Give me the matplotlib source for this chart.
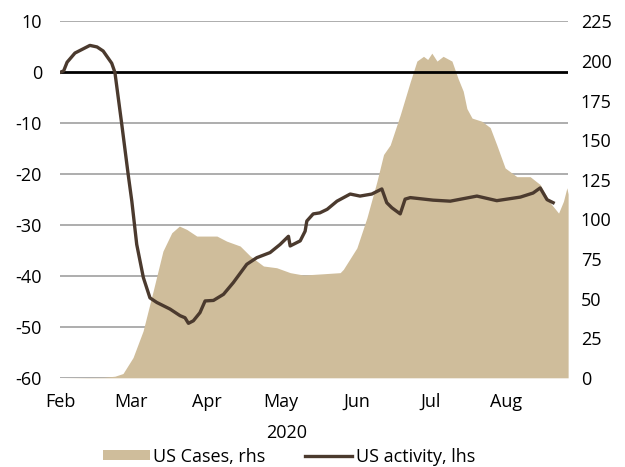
import numpy as np
import matplotlib
matplotlib.use('Agg')
import matplotlib.pyplot as plt
from matplotlib.patches import Patch
from matplotlib.lines import Line2D

plt.rcParams['font.family'] = ['Open Sans', 'DejaVu Sans']
plt.rcParams['axes.unicode_minus'] = False

# days since 2020-02-01
month_days = [0, 29, 60, 90, 121, 151, 182]
month_labels = ['Feb', 'Mar', 'Apr', 'May', 'Jun', 'Jul', 'Aug']

# US activity (lhs)
act_days = [0, 1.5, 2.9, 6.1, 12.2, 15.1, 17.6, 21.1, 22.4, 25.2, 27.8, 29.3,
            31.3, 34.0, 36.7, 39.5, 44.9, 49.0, 51.0, 52.4, 54.4, 57.1, 59.2,
            62.6, 66.7, 70.7, 76.2, 80.3, 85.7, 89.8, 93.2, 93.9, 98.0, 100.0,
            100.7, 103.3, 106.0, 109.0, 113.0, 118.4, 122.4, 127.2, 131.3,
            133.3, 135.4, 138.8, 140.8, 142.9, 152.2, 159.2, 170.1, 178.2,
            187.8, 193.0, 195.9, 198.7, 201.2]
act_vals = [0, 0.3, 2.0, 3.8, 5.3, 5.0, 4.2, 1.8, 0, -10.2, -20, -25.3,
            -33.8, -40.3, -44.3, -45.2, -46.5, -47.8, -48.2, -49.3, -48.8, -47.2, -44.9,
            -44.8, -43.6, -41.3, -37.7, -36.4, -35.4, -33.8, -32.2, -34.1, -33.1, -31.2,
            -29.2, -27.8, -27.6, -26.9, -25.3, -23.9, -24.3, -23.9, -22.9,
            -25.6, -26.6, -27.8, -24.9, -24.6, -25.1, -25.3, -24.3, -25.2,
            -24.5, -23.7, -22.7, -25.0, -25.6]

# US cases (rhs)
case_days = [0, 17.6, 22.4, 25.7, 29.8, 33.9, 38.0, 42.0, 45.6, 48.7, 51.7,
             55.8, 64.0, 68.0, 73.5, 77.6, 83.0, 88.4, 93.9, 99.3, 107.5, 114.3,
             115.6, 121.1, 125.2, 129.3, 132.0, 134.7, 138.8, 142.9, 145.6, 148.3,
             150.0, 151.7, 153.8, 156.3, 159.9, 162.4, 164.5, 166.0, 168.1, 172.1,
             175.5, 178.2, 181.6, 186.4, 191.8, 195.9, 200.0, 203.4, 205.4, 206.8, 207.3]
case_vals = [0, 0.3, 1.0, 2.7, 12.8, 29.6, 54.8, 80.0, 91.6, 95.8, 93.7,
             89.5, 89.5, 86.3, 83.2, 76.9, 70.6, 69.5, 66.4, 64.9, 65.7, 66.4,
             68.5, 82.0, 101.0, 124.0, 141.0, 147.0, 166.0, 187.0, 200.0, 203.0,
             201.0, 205.0, 200.0, 203.0, 200.0, 189.0, 181.0, 170.0, 164.0, 162.0,
             158.0, 147.0, 132.5, 127.0, 127.0, 122.0, 110.5, 104.0, 111.5, 120.0, 116.0]

tan = '#cfbd9b'
brown = '#4b3a2e'
fs = 13

fig = plt.figure(figsize=(6.25, 4.67), dpi=100)
ax = fig.add_axes([0.096, 0.191, 0.813, 0.763])
ax2 = ax.twinx()

# cases area on the right axis, drawn behind the activity line
ax2.set_zorder(0)
ax.set_zorder(1)
ax.patch.set_visible(False)

for y in range(-60, 11, 10):
    if y == 0:
        continue
    ax2.axhline((y + 60) / 70 * 225, color='#a0a0a0', lw=1.2, zorder=0)
ax2.fill_between(case_days, case_vals, color=tan, lw=0, zorder=1)
ax2.set_ylim(0, 225)
ax2.set_yticks(np.arange(0, 226, 25))

ax.axhline(0, color='black', lw=2, zorder=2)
ax.plot(act_days, act_vals, color=brown, lw=2.4, zorder=3)
ax.set_ylim(-60, 10)
ax.set_yticks(np.arange(-60, 11, 10))
ax.set_xlim(0, 207.3)
ax.set_xticks(month_days)
ax.set_xticklabels(month_labels)

for a in (ax, ax2):
    for s in a.spines.values():
        s.set_visible(False)
    a.tick_params(length=0, labelsize=fs, colors='black')
ax.tick_params(axis='y', pad=13)
ax.tick_params(axis='x', pad=11)
ax2.tick_params(axis='y', pad=9)

fig.text(0.459, 0.073, '2020', ha='center', va='center', fontsize=fs)

handles = [Patch(facecolor=tan, edgecolor='none'),
           Line2D([0], [0], color=brown, lw=2.4)]
fig.legend(handles, ['US Cases, rhs', 'US activity, lhs'], loc='center',
           bbox_to_anchor=(0.462, 0.022), ncol=2, frameon=False, fontsize=fs,
           handlelength=2.6, handleheight=0.45, handletextpad=0.2,
           columnspacing=2.2, borderpad=0)

fig.savefig('out.png', dpi=100)
